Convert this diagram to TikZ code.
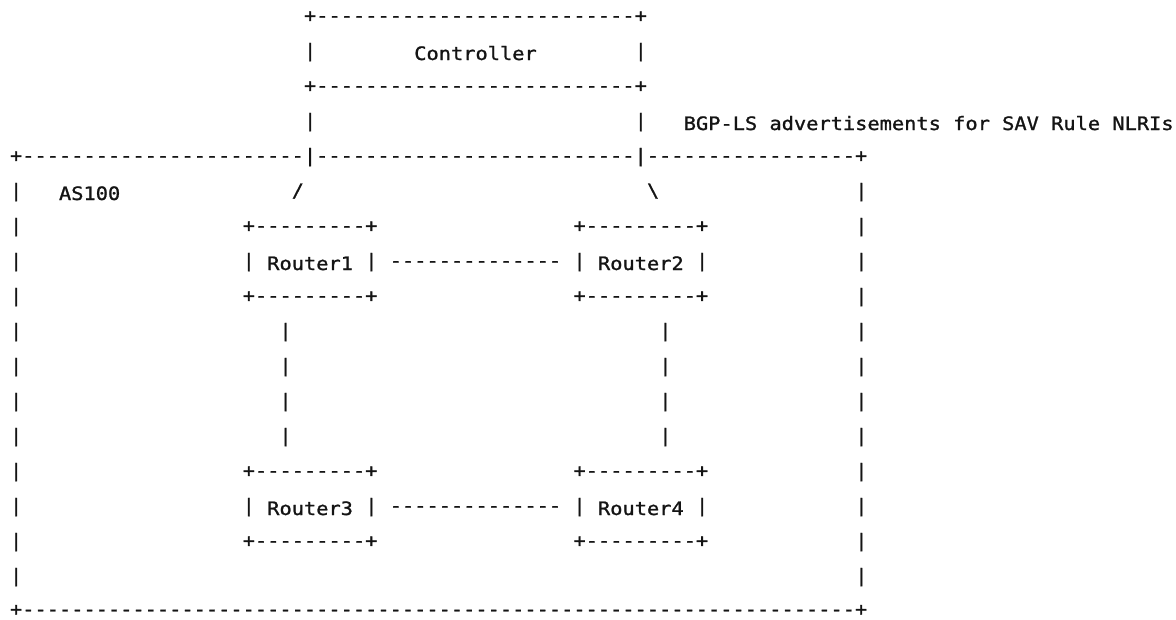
\documentclass[tikz,border=0pt]{standalone}
\usepackage{fontspec}
\setmonofont{DejaVu Sans Mono}[FakeStretch=1.1,FakeBold=1.2]
\definecolor{ink}{HTML}{141414}
\ExplSyntaxOn
\newcommand\dsh[1]{\prg_replicate:nn{#1}{-}}
\ExplSyntaxOff
\tikzset{
  glyph/.style={anchor=base west, inner sep=0pt, outer sep=0pt, text=ink,
    font=\ttfamily\fontsize{13.87pt}{16pt}\selectfont},
  word/.style={glyph, yshift=-6pt},
  sym/.style={glyph, yshift=-3.75pt},
}
\begin{document}
\begin{tikzpicture}[x=9.1875pt, y=-26.25pt]
\useasboundingbox (-0.8163,0.5143) rectangle (95.184,18.2);
% Controller box
\node[sym]  (ctrlTop) at (24,1) {+\dsh{26}+};
\node[sym]  (ctrlL)   at (24,2) {|};
\node[word] (ctrl)    at (33,2) {Controller};
\node[sym]  (ctrlR)   at (51,2) {|};
\node[sym]  (ctrlBot) at (24,3) {+\dsh{26}+};
\node[sym]  (linkL)   at (24,4) {|};
\node[sym]  (linkR)   at (51,4) {|};
\node[word] (bgpls)   at (55,4) {BGP-LS advertisements for SAV Rule NLRIs};
% AS100 frame top
\node[sym]  (asTop)   at (0,5) {+\dsh{23}|\dsh{26}|\dsh{17}+};
\node[sym]  (l6)      at (0,6) {|};
\node[word] (as100)   at (4,6) {AS100};
\node[sym]  (slash)   at (23,6) {/};
\node[sym]  (bslash)  at (52,6) {\textbackslash};
\node[sym]  (r6)      at (69,6) {|};
% Router1 / Router2
\node[sym]  (l7)      at (0,7) {|};
\node[sym]  (rOneTop) at (19,7) {+\dsh{9}+};
\node[sym]  (rTwoTop) at (46,7) {+\dsh{9}+};
\node[sym]  (r7)      at (69,7) {|};
\node[sym]  (l8)      at (0,8) {|};
\node[sym]  (rOneL)   at (19,8) {|};
\node[word] (rOne)    at (21,8) {Router1};
\node[sym]  (rOneR)   at (29,8) {|};
\node[sym]  (linkOneTwo) at (31,8) {\dsh{14}};
\node[sym]  (rTwoL)   at (46,8) {|};
\node[word] (rTwo)    at (48,8) {Router2};
\node[sym]  (rTwoR)   at (56,8) {|};
\node[sym]  (r8)      at (69,8) {|};
\node[sym]  (l9)      at (0,9) {|};
\node[sym]  (rOneBot) at (19,9) {+\dsh{9}+};
\node[sym]  (rTwoBot) at (46,9) {+\dsh{9}+};
\node[sym]  (r9)      at (69,9) {|};
% vertical links
\foreach \r in {10,11,12,13}{
  \node[sym] (l\r)  at (0,\r)  {|};
  \node[sym] (vA\r) at (22,\r) {|};
  \node[sym] (vB\r) at (53,\r) {|};
  \node[sym] (r\r)  at (69,\r) {|};
}
% Router3 / Router4
\node[sym]  (l14)       at (0,14) {|};
\node[sym]  (rThreeTop) at (19,14) {+\dsh{9}+};
\node[sym]  (rFourTop)  at (46,14) {+\dsh{9}+};
\node[sym]  (r14)       at (69,14) {|};
\node[sym]  (l15)       at (0,15) {|};
\node[sym]  (rThreeL)   at (19,15) {|};
\node[word] (rThree)    at (21,15) {Router3};
\node[sym]  (rThreeR)   at (29,15) {|};
\node[sym]  (linkThreeFour) at (31,15) {\dsh{14}};
\node[sym]  (rFourL)    at (46,15) {|};
\node[word] (rFour)     at (48,15) {Router4};
\node[sym]  (rFourR)    at (56,15) {|};
\node[sym]  (r15)       at (69,15) {|};
\node[sym]  (l16)       at (0,16) {|};
\node[sym]  (rThreeBot) at (19,16) {+\dsh{9}+};
\node[sym]  (rFourBot)  at (46,16) {+\dsh{9}+};
\node[sym]  (r16)       at (69,16) {|};
\node[sym]  (l17)       at (0,17) {|};
\node[sym]  (r17)       at (69,17) {|};
% AS100 frame bottom
\node[sym]  (asBot)     at (0,17.96) {+\dsh{68}+};
\end{tikzpicture}
\end{document}
